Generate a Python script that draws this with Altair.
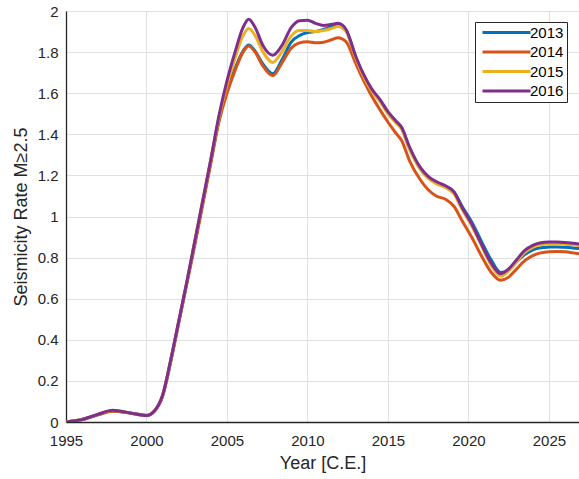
import altair as alt
import pandas as pd

# Sample years (shared by all series)
years = [1995, 1996, 1997, 1997.9, 1999, 2000, 2000.5, 2001, 2001.5, 2002,
         2002.5, 2003, 2003.5, 2004, 2004.5, 2005, 2005.5, 2006, 2006.35, 2006.75,
         2007.25, 2007.85, 2008.4, 2009, 2009.5, 2010, 2010.5, 2011, 2011.5, 2011.9,
         2012.4, 2013, 2013.5, 2014, 2014.5, 2015, 2015.5, 2015.85, 2016.35, 2017,
         2017.5, 2018, 2018.6, 2019.1, 2019.6, 2020.2, 2020.8, 2021.4, 2022.0, 2022.5,
         2023, 2023.5, 2024, 2024.5, 2025, 2025.5, 2026, 2026.5, 2027]

# Seismicity rate (M >= 2.5) per model year
rate_2013 = [0.0, 0.012, 0.036, 0.054, 0.044, 0.032, 0.054, 0.127, 0.295, 0.485,
             0.675, 0.87, 1.07, 1.27, 1.47, 1.61, 1.72, 1.805, 1.835, 1.805,
             1.74, 1.695, 1.76, 1.85, 1.88, 1.895, 1.90, 1.91, 1.925, 1.935,
             1.905, 1.775, 1.685, 1.615, 1.565, 1.505, 1.46, 1.43, 1.33, 1.235,
             1.19, 1.165, 1.145, 1.12, 1.05, 0.975, 0.88, 0.79, 0.728, 0.74,
             0.78, 0.815, 0.838, 0.848, 0.851, 0.852, 0.85, 0.847, 0.843]

rate_2014 = [0.0, 0.012, 0.035, 0.052, 0.043, 0.032, 0.053, 0.125, 0.29, 0.48,
             0.67, 0.86, 1.06, 1.26, 1.46, 1.60, 1.71, 1.80, 1.83, 1.80,
             1.73, 1.685, 1.745, 1.82, 1.845, 1.85, 1.845, 1.848, 1.86, 1.87,
             1.85, 1.745, 1.66, 1.585, 1.52, 1.46, 1.405, 1.37, 1.27, 1.18,
             1.13, 1.10, 1.083, 1.05, 0.98, 0.90, 0.81, 0.73, 0.69, 0.705,
             0.745, 0.785, 0.81, 0.823, 0.829, 0.83, 0.828, 0.823, 0.817]

rate_2015 = [0.0, 0.012, 0.037, 0.056, 0.044, 0.032, 0.055, 0.13, 0.30, 0.49,
             0.68, 0.88, 1.08, 1.28, 1.48, 1.64, 1.77, 1.88, 1.915, 1.88,
             1.80, 1.75, 1.80, 1.88, 1.905, 1.905, 1.90, 1.905, 1.915, 1.925,
             1.90, 1.77, 1.68, 1.61, 1.56, 1.50, 1.455, 1.425, 1.325, 1.23,
             1.185, 1.16, 1.14, 1.11, 1.035, 0.955, 0.86, 0.765, 0.71, 0.735,
             0.78, 0.825, 0.85, 0.862, 0.866, 0.867, 0.865, 0.862, 0.857]

rate_2016 = [0.0, 0.012, 0.038, 0.057, 0.044, 0.032, 0.055, 0.13, 0.30, 0.49,
             0.68, 0.88, 1.08, 1.28, 1.49, 1.66, 1.80, 1.92, 1.96, 1.92,
             1.83, 1.785, 1.83, 1.92, 1.953, 1.955, 1.94, 1.93, 1.935, 1.94,
             1.91, 1.78, 1.69, 1.62, 1.57, 1.51, 1.465, 1.434, 1.337, 1.24,
             1.195, 1.17, 1.148, 1.12, 1.045, 0.964, 0.867, 0.775, 0.722, 0.745,
             0.79, 0.835, 0.86, 0.872, 0.876, 0.876, 0.874, 0.87, 0.865]

series_names = ["2013", "2014", "2015", "2016"]
series_values = [rate_2013, rate_2014, rate_2015, rate_2016]
series_colors = ["#0072BD", "#D95319", "#EDB120", "#7E2F8E"]

x_ticks = [1995, 2000, 2005, 2010, 2015, 2020, 2025]
y_ticks = [0, 0.2, 0.4, 0.6, 0.8, 1.0, 1.2, 1.4, 1.6, 1.8, 2.0]

rows = []
for order, (name, vals) in enumerate(zip(series_names, series_values)):
    for yr, v in zip(years, vals):
        rows.append({"year": yr, "rate": v, "series": name, "order": order})
df = pd.DataFrame(rows)

FONT = "Liberation Sans"
INK = "#262626"

chart = (
    alt.Chart(df)
    .mark_line(strokeWidth=3, interpolate="monotone", clip=True)
    .encode(
        x=alt.X(
            "year:Q",
            scale=alt.Scale(domain=[1995, 2026.87], nice=False, zero=False),
            axis=alt.Axis(
                values=x_ticks, format="d", title="Year [C.E.]",
                labelPadding=11, titlePadding=6, labelFlush=False,
            ),
        ),
        y=alt.Y(
            "rate:Q",
            scale=alt.Scale(domain=[0, 2], nice=False),
            axis=alt.Axis(
                values=y_ticks, format=".1~f", title="Seismicity Rate M≥2.5",
                labelPadding=8, titlePadding=7, labelFlush=False,
            ),
        ),
        color=alt.Color(
            "series:N",
            scale=alt.Scale(domain=series_names, range=series_colors),
            legend=alt.Legend(
                title=None, orient="none", legendX=409, legendY=11,
                fillColor="white", strokeColor=INK, padding=3,
                symbolType="M-4.8,0H4.8", symbolStrokeWidth=3, symbolSize=100,
                symbolOffset=21, labelOffset=16, rowPadding=3.5,
                labelFontSize=15, labelFont=FONT, labelColor="black",
                cornerRadius=0,
            ),
        ),
        order=alt.Order("order:Q"),
    )
    .properties(
        width=513,
        height=411,
        autosize=alt.AutoSizeParams(type="none"),
        padding={"left": 66, "top": 11, "right": 0, "bottom": 57},
    )
    .configure_view(stroke=None)
    .configure_axis(
        grid=True, gridColor="#e0e0e0", gridWidth=1,
        domainColor=INK, domainWidth=1.3, ticks=False,
        labelFont=FONT, labelFontSize=15, labelColor=INK,
        titleFont=FONT, titleFontSize=18, titleFontWeight="normal", titleColor=INK,
        labelOverlap=False,
    )
)

chart.save("out.html", embed_options={"renderer": "svg", "actions": False})
